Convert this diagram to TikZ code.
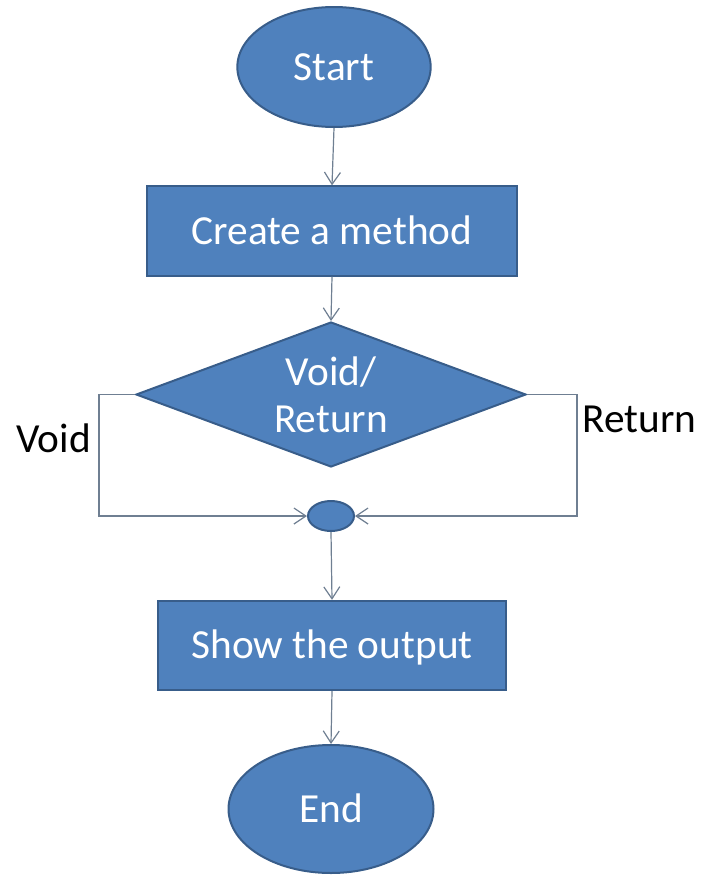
\documentclass[tikz,border=0pt]{standalone}
\usepackage{fontspec}
\setmainfont{Carlito}
\usetikzlibrary{shapes.geometric,arrows.meta}
\definecolor{shapefill}{HTML}{4F81BD}
\definecolor{shapeline}{HTML}{385D8A}
\definecolor{connline}{HTML}{6F7F92}

\begin{document}
\begin{tikzpicture}[x=0.75pt,y=-0.75pt,
  base/.style={fill=shapefill,draw=shapeline,line width=1.5pt,text=white,
    font=\fontsize{31}{35}\selectfont,inner sep=0pt},
  term/.style={base,ellipse,minimum width=145pt,minimum height=90pt,
    text height=20pt,text depth=0pt},
  procbox/.style={base,rectangle,minimum width=#1,minimum height=67pt,
    text height=20pt,text depth=0pt},
  decision/.style={base,diamond,aspect=2.69,minimum width=292.5pt,
    minimum height=108.75pt,align=center},
  junction/.style={base,ellipse,minimum width=34.5pt,minimum height=22.5pt},
  conn/.style={draw=connline,line width=0.9pt,
    -{Straight Barb[length=9pt,width=12pt,line width=0.9pt]}},
  side/.style={font=\fontsize{31}{35}\selectfont,text=black,inner sep=0pt,
    anchor=base}
]
\useasboundingbox (0,0) rectangle (702,875);

% flowchart nodes
\node[term] (start) at (334,67) {Start};
\node[procbox=277.5pt] (create) at (332,231) {Create a method};
\node[decision] (dec) at (331,394.5) {Void/\\Return};
\node[junction] (join) at (331,516) {};
\node[procbox=261pt] (show) at (332,645.5) {Show the output};
\node[term,minimum width=153.75pt,minimum height=96pt] (end) at (331,809) {End};

% corners of the two branches
\coordinate (vl) at (99,394.5);
\coordinate (vr) at (577,394.5);

% branch labels
\node[side] (lvoid) at (53.5,452) {Void};
\node[side] (lret) at (639.5,432) {Return};

% connectors
\draw[conn] (start.south) -- (create.north);
\draw[conn] (create.south) -- (dec.north);
\draw[conn] (dec.west) -- (vl) |- (join.west);
\draw[conn] (dec.east) -- (vr) |- (join.east);
\draw[conn] (join.south) -- (show.north);
\draw[conn] (show.south) -- (end.north);
\end{tikzpicture}
\end{document}
